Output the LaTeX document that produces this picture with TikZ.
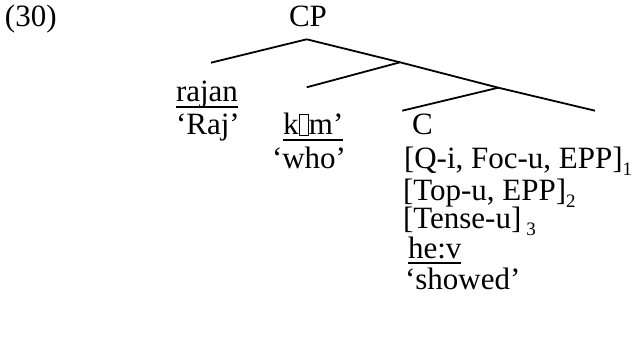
\documentclass[tikz,border=0pt]{standalone}
\usepackage{fontspec}
\setmainfont{Liberation Serif}
% placeholder box for the glyph the source font could not show
\newcommand{\nofontglyph}{{\setlength\fboxsep{0pt}\setlength\fboxrule{0.9pt}\fbox{\rule{0.28em}{0pt}\rule{0pt}{0.64em}}}}
\newcommand{\subidx}[1]{\raisebox{-0.25em}{\fontsize{19}{19}\selectfont #1}}
% heavier underline, set a little below the baseline
\newcommand{\uline}[1]{\setbox0=\hbox{#1}\rlap{\rule[-0.19em]{\wd0}{2pt}}\box0}
\begin{document}
\begin{tikzpicture}[x=1pt,y=-1pt,
  lbl/.style={anchor=base west,inner sep=0pt,outer sep=0pt,font=\fontsize{31}{33}\selectfont},
  branch/.style={line width=1.8pt}]
\useasboundingbox (0,0) rectangle (639,339);

% labels
\node[lbl] (ex) at (5,27) {(30)};
\node[lbl,anchor=base] (cp) at (308,27) {CP};
\node[lbl] (rajan) at (176,102) {\uline{rajan}};
\node[lbl] (raj) at (176,135) {‘Raj’};
\node[lbl] (kim) at (283,135) {\uline{k\nofontglyph m’}};
\node[lbl] (c) at (412,135) {C};
\node[lbl] (who) at (272,168) {‘who’};
\node[lbl] (f1) at (404,168) {[Q-i, Foc-u, EPP]\subidx{1}};
\node[lbl] (f2) at (403,200) {[Top-u, EPP]\subidx{2}};
\node[lbl] (f3) at (403,228) {[Tense-u]\,\subidx{3}};
\node[lbl] (verb) at (408,258) {\uline{he:v}};
\node[lbl] (gloss) at (405,289) {‘showed’};

% branching points and branch ends
\coordinate (top) at (306.7,39.3);
\coordinate (b1) at (400,62.3);
\coordinate (b2) at (498.3,87.7);
\coordinate (l1) at (211,62.7);
\coordinate (l2) at (306.7,87.3);
\coordinate (l3) at (402.3,110.7);
\coordinate (rt) at (595,110.7);

\draw[branch] (top) -- (l1);
\draw[branch] (top) -- (b1) -- (b2) -- (rt);
\draw[branch] (b1) -- (l2);
\draw[branch] (b2) -- (l3);
\end{tikzpicture}
\end{document}
